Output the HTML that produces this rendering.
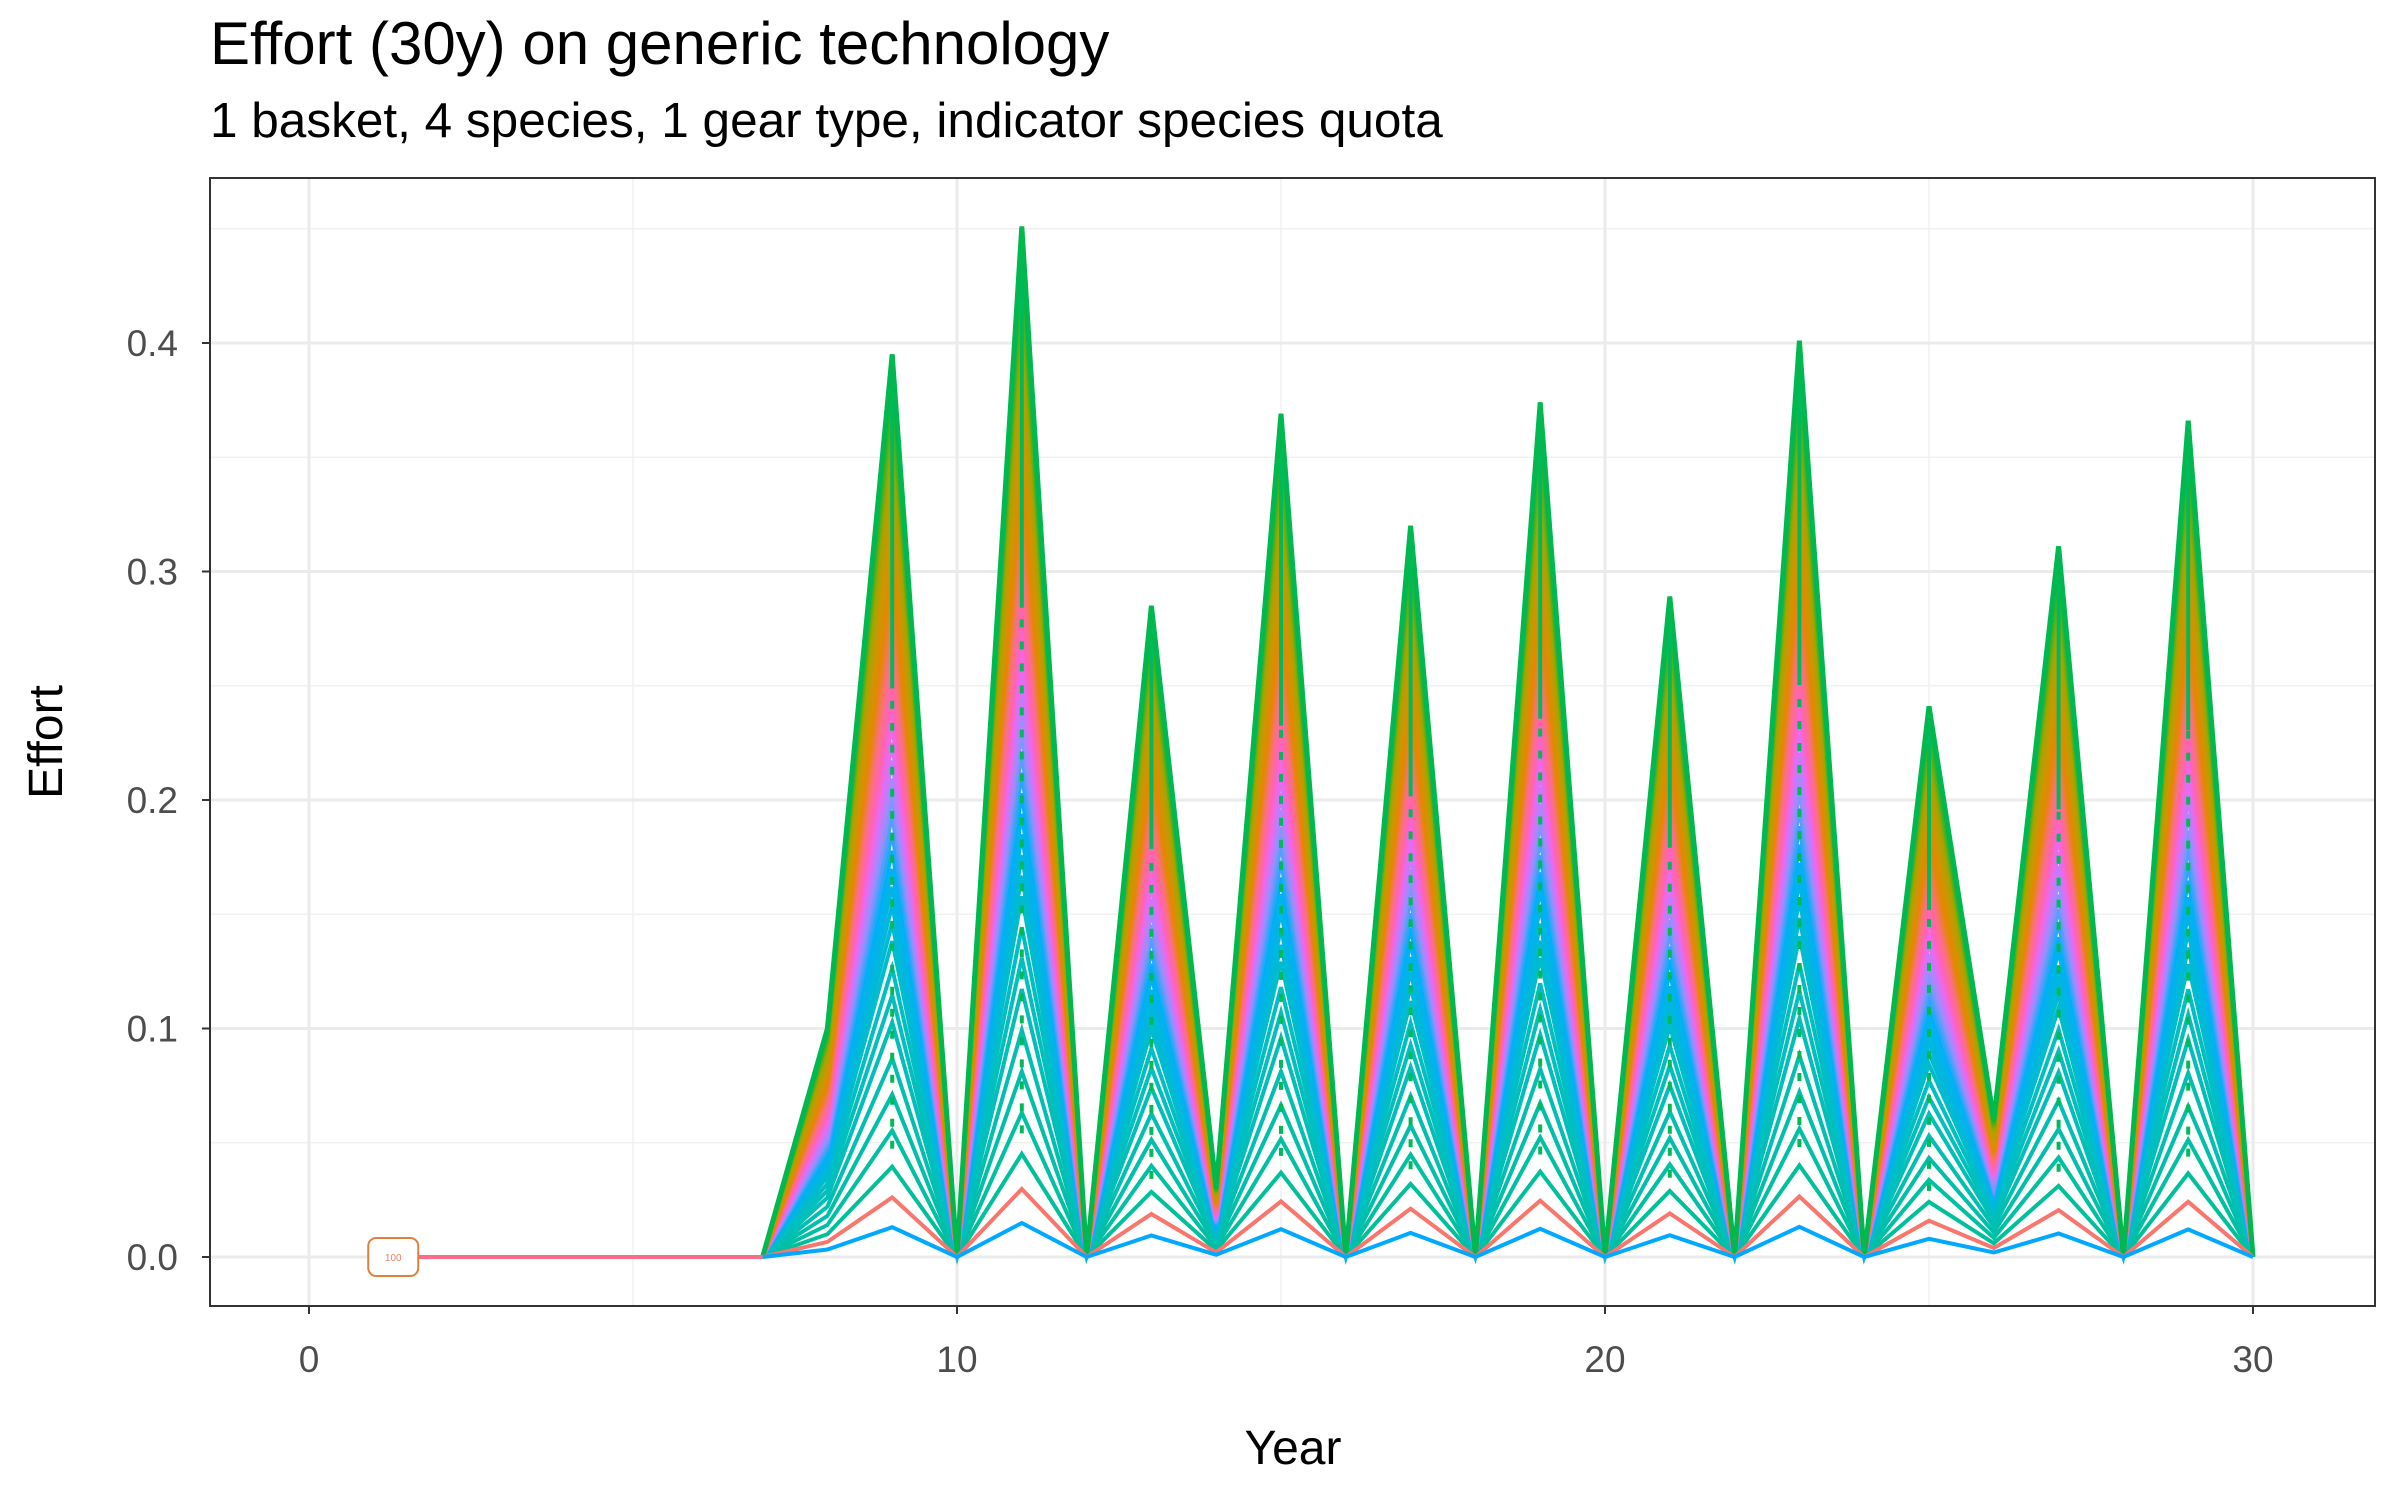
<!DOCTYPE html>
<html><head><meta charset="utf-8"><style>
body{margin:0;background:#fff}
svg{display:block;font-family:"Liberation Sans",Arial,sans-serif}
</style></head><body>
<svg id="chart" width="2400" height="1500" viewBox="0 0 2400 1500" xmlns="http://www.w3.org/2000/svg">
<rect width="2400" height="1500" fill="#fff"/>
<text x="210" y="64" font-size="60" fill="#000">Effort (30y) on generic technology</text>
<text x="210" y="137" font-size="49.5" fill="#000">1 basket, 4 species, 1 gear type, indicator species quota</text>
<g id="grid"></g>
<g id="series"></g>
<g id="axes"></g>
<text x="1293" y="1464" font-size="48" text-anchor="middle" fill="#000">Year</text>
<text transform="translate(62,742) rotate(-90)" font-size="48" text-anchor="middle" fill="#000">Effort</text>
</svg>
<script>
const years=[0,1,2,3,4,5,6,7,8,9,10,11,12,13,14,15,16,17,18,19,20,21,22,23,24,25,26,27,28,29,30];
const maxEffort=[0,0,0,0,0,0,0,0,0.1,0.395,0,0.451,0,0.285,0.03,0.369,0,0.320,0,0.374,0,0.289,0,0.401,0,0.241,0.06,0.311,0,0.366,0];
const fractions=[0.10,0.14,0.18,0.22,0.26,0.29,0.32,0.35,0.37,0.39,0.41,0.43,0.45,0.47,0.49,0.51,0.53,0.55,0.57,0.59,0.61,0.63,0.645,0.66,0.675,0.69,0.705,0.72,0.735,0.75,0.765,0.78,0.795,0.81,0.825,0.84,0.855,0.87,0.885,0.90,0.915,0.93,0.945,0.96,0.975,0.99,1.0];
const redFraction=0.066, blueFraction=0.033;
const xTicks=[0,10,20,30], xMinor=[5,15,25];
const yTicks=[0,0.1,0.2,0.3,0.4], yMinor=[0.05,0.15,0.25,0.35,0.45];
const labelYear=1.3, labelText="100";
const colorStops=[[0.0,'#00c08b'],[0.33,'#00bfc4'],[0.45,'#00b0f6'],[0.52,'#9590ff'],[0.58,'#e76bf3'],[0.63,'#ff62bc'],[0.69,'#fb7080'],[0.77,'#e58700'],[0.85,'#c99800'],[0.92,'#a3a500'],[1.0,'#00b83a']];
const NS="http://www.w3.org/2000/svg";
const PL=210,PR=2375,PT=178,PB=1306;
const X=v=>309+v*(2253-309)/30;
const Y=v=>1257-v*(1257-343)/0.4;
function hex(c){return [1,3,5].map(i=>parseInt(c.substr(i,2),16));}
function colorAt(f){for(let i=1;i<colorStops.length;i++){if(f<=colorStops[i][0]){const [a,ca]=colorStops[i-1],[b,cb]=colorStops[i];const t=(f-a)/(b-a);const A=hex(ca),B=hex(cb);return 'rgb('+A.map((v,k)=>Math.round(v+(B[k]-v)*t)).join(',')+')';}}return colorStops[colorStops.length-1][1];}
function mk(tag,attrs,parent){const e=document.createElementNS(NS,tag);for(const k in attrs)e.setAttribute(k,attrs[k]);parent.appendChild(e);return e;}
const grid=document.getElementById('grid'),ser=document.getElementById('series'),ax=document.getElementById('axes');
mk('rect',{x:PL,y:PT,width:PR-PL,height:PB-PT,fill:'#fff'},grid);
yMinor.forEach(v=>{const e=mk('line',{x1:PL,x2:PR,y1:Y(v),y2:Y(v),stroke:'#f0f0f0','stroke-width':1.5},grid);

});
xMinor.forEach(v=>{const e=mk('line',{x1:X(v),x2:X(v),y1:PT,y2:PB,stroke:'#f0f0f0','stroke-width':1.5},grid);

});
yTicks.forEach(v=>{const e=mk('line',{x1:PL,x2:PR,y1:Y(v),y2:Y(v),stroke:'#ebebeb','stroke-width':3},grid);

});
xTicks.forEach(v=>{const e=mk('line',{x1:X(v),x2:X(v),y1:PT,y2:PB,stroke:'#ebebeb','stroke-width':3},grid);

});
function pathFor(f){let d='';for(let i=7;i<years.length;i++){d+=(i==7?'M':'L')+X(years[i]).toFixed(1)+','+Y(maxEffort[i]*f).toFixed(1);}return d;}
fractions.forEach((f,i)=>{
 const p=mk('path',{d:pathFor(f),fill:'none',stroke:colorAt(f),'stroke-width':4},ser);
 
 
});
for(let i=0;i<years.length;i++){if(maxEffort[i]>0.2){const v=mk('line',{x1:X(years[i]),x2:X(years[i]),y1:Y(maxEffort[i]*0.63),y2:Y(maxEffort[i]),stroke:'#00ba5a','stroke-width':4},ser);


const dv=mk('line',{x1:X(years[i]),x2:X(years[i]),y1:Y(maxEffort[i]*0.12),y2:Y(maxEffort[i]*0.63),stroke:'#00ba5a','stroke-width':4,'stroke-dasharray':'8 14'},ser);

}}
const topLine=mk('path',{d:pathFor(1),fill:'none',stroke:'#00b850','stroke-width':5},ser);


const redLine=mk('path',{d:pathFor(redFraction),fill:'none',stroke:'#f8766d','stroke-width':4},ser);


const blueLine=mk('path',{d:pathFor(blueFraction),fill:'none',stroke:'#00a9ff','stroke-width':4},ser);


const baseLine=mk('line',{x1:X(labelYear),x2:X(7),y1:Y(0),y2:Y(0),stroke:'#ff6c88','stroke-width':4},ser);


const lb=mk('rect',{x:X(labelYear)-25,y:Y(0)-19,width:50,height:38,rx:8,fill:'#fff',stroke:'#e0803a','stroke-width':2},ser);


const lt=mk('text',{x:X(labelYear),y:Y(0)+4,'font-size':10,'text-anchor':'middle',fill:'#f08060'},ser);
lt.textContent=labelText;


mk('rect',{x:PL,y:PT,width:PR-PL,height:PB-PT,fill:'none',stroke:'#333','stroke-width':2},ax);
yTicks.forEach(v=>{mk('line',{x1:PL-8,x2:PL,y1:Y(v),y2:Y(v),stroke:'#333','stroke-width':2},ax);
const t=mk('text',{x:PL-32,y:Y(v)+13,'font-size':37,'text-anchor':'end',fill:'#4d4d4d'},ax);t.textContent=v.toFixed(1);

});
xTicks.forEach(v=>{mk('line',{x1:X(v),x2:X(v),y1:PB,y2:PB+8,stroke:'#333','stroke-width':2},ax);
const t=mk('text',{x:X(v),y:PB+66,'font-size':37,'text-anchor':'middle',fill:'#4d4d4d'},ax);t.textContent=v;

});
</script>
</body></html>
